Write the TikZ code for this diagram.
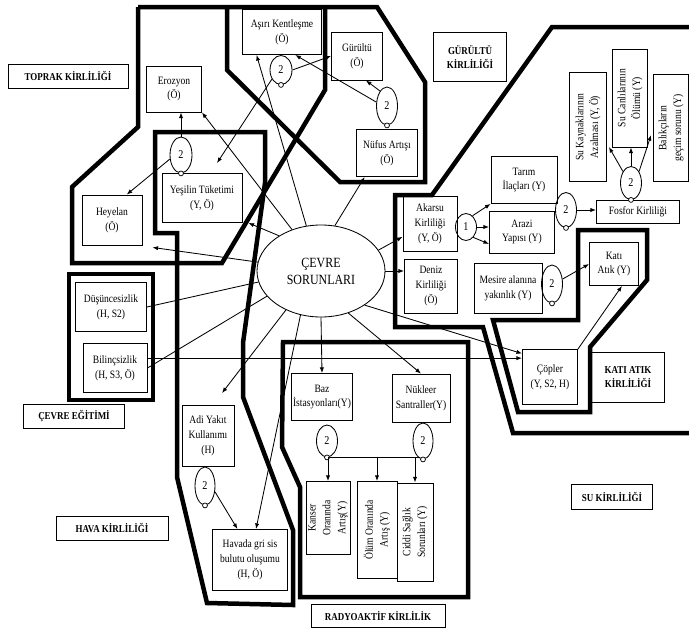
\documentclass[tikz,border=0pt]{standalone}
\usepackage{fontspec}
\setmainfont{Liberation Serif}
\newfontfamily\cndfont[FakeStretch=0.85]{Liberation Serif}
\usetikzlibrary{arrows.meta, shapes.geometric, positioning, calc}
\tikzset{every node/.append style={align=center}}
\newcommand{\boxfont}{\cndfont\fontsize{8}{10.5}\selectfont}
\newcommand{\tagfont}{\cndfont\bfseries\fontsize{7.5}{10}\selectfont}

\tikzset{
  sz/.style 2 args={minimum width=#1*0.025cm, minimum height=#2*0.025cm},
  box/.style={draw, line width=0.6pt, inner sep=1pt, font=\boxfont},
  tagbox/.style={draw, line width=0.7pt, inner sep=1pt, font=\tagfont},
  cnt/.style={ellipse, draw, line width=0.6pt, inner sep=0pt,
              font=\cndfont\fontsize{8.5}{9}\selectfont},
  knob/.style={circle, draw, fill=white, inner sep=0pt, minimum size=3.5pt, line width=0.5pt},
  arr/.style={-{Latex[length=4pt,width=3pt]}, line width=0.6pt},
  link/.style={line width=0.6pt},
  zone/.style={line width=3.2pt, line join=miter},
}

\begin{document}
\begin{tikzpicture}[x=0.025cm,y=-0.025cm]
\useasboundingbox (0,0) rectangle (689,631);

% ── thick group outlines ──────────────────────────────────────────────────────
\draw[zone] (138,7) -- (377,7) -- (425,82) -- (425,182) -- (340,182) -- (227,70) -- (227,7);
\draw[zone] (325,7) -- (325,90) -- (222,263) -- (72,263) -- (72,187) -- (138,127) -- (138,7);
\draw[zone] (155,132) -- (265,132) -- (265,183) -- (243,343) -- (243,397) -- (293,530)
            -- (293,605) -- (207,603) -- (177,477) -- (177,233) -- (155,233) -- cycle;
\draw[zone] (69,274) rectangle (153,400);
\draw[zone] (283,342) -- (468,342) -- (468,597) -- (300,597) -- (300,487) -- (282,447) -- cycle;
\draw[zone] (689,27) -- (552,27) -- (432,195) -- (395,195) -- (395,327) -- (483,327)
            -- (513,433) -- (689,433);
\draw[zone] (578,230) -- (647,230) -- (647,280) -- (590,347) -- (590,412) -- (518,412)
            -- (493,320) -- (578,320) -- cycle;

% ── group titles ──────────────────────────────────────────────────────────────
\node[tagbox, sz={120}{24}] (toprak) at (68,76) {TOPRAK KİRLİLİĞİ};
\node[tagbox, sz={73}{49}] (gurtag) at (470,57) {GÜRÜLTÜ\\KİRLİLİĞİ};
\node[tagbox, sz={101}{24}] (egitim) at (74,416) {ÇEVRE EĞİTİMİ};
\node[tagbox, sz={112}{24}] (hava) at (112,528) {HAVA KİRLİLİĞİ};
\node[tagbox, sz={134}{23}] (radyo) at (378,616) {RADYOAKTİF KİRLİLİK};
\node[tagbox, sz={81}{25}] (su) at (612,497) {SU KİRLİLİĞİ};
\node[tagbox, sz={73}{50}] (katitag) at (628,377) {KATI ATIK\\KİRLİLİĞİ};

% ── centre ────────────────────────────────────────────────────────────────────
\node[ellipse, draw, line width=0.6pt, sz={128}{92}, inner sep=0pt,
      font=\cndfont\fontsize{10}{12}\selectfont] (cevre) at (321,271) {ÇEVRE\\SORUNLARI};

% ── problems ──────────────────────────────────────────────────────────────────
\node[box, sz={55}{46}] (erozyon) at (174,89) {Erozyon\\(Ö)};
\node[box, sz={79}{45}] (asiri) at (282,32) {Aşırı Kentleşme\\(Ö)};
\node[box, sz={51}{48}] (gurultu) at (357,56) {Gürültü\\(Ö)};
\node[box, sz={61}{47}] (nufus) at (387,153) {Nüfus Artışı\\(Ö)};
\node[box, sz={80}{49}] (yesil) at (202,198) {Yeşilin Tüketimi\\(Y, Ö)};
\node[box, sz={60}{50}] (heyelan) at (112,220) {Heyelan\\(Ö)};
\node[box, sz={71}{49}] (dusunce) at (111,307) {Düşüncesizlik\\(H, S2)};
\node[box, sz={64}{49}] (bilinc) at (115,368) {Bilinçsizlik\\(H, S3, Ö)};
\node[box, sz={52}{61}] (adi) at (208,436) {Adi Yakıt\\Kullanımı\\(H)};
\node[box, sz={75}{61}] (sis) at (250,560) {Havada gri sis\\bulutu oluşumu\\(H, Ö)};
\node[box, sz={61}{47}] (baz) at (322,397) {Baz\\İstasyonları(Y)};
\node[box, sz={58}{48}] (nukleer) at (421,398) {Nükleer\\Santraller(Y)};
\node[box, sz={73}{44}, rotate=90] (kanser) at (328,518) {Kanser\\Oranında\\Artış(Y)};
\node[box, sz={97}{40}, rotate=90] (olum) at (377,530) {Ölüm Oranında\\Artış (Y)};
\node[box, sz={98}{36}, rotate=90] (ciddi) at (415,532) {Ciddi Sağlık\\Sorunları (Y)};
\node[box, sz={55}{55}] (copler) at (550,377) {Çöpler\\(Y, S2, H)};
\node[box, sz={49}{43}] (katiatik) at (614,264) {Katı\\Atık (Y)};
\node[box, sz={68}{50}] (mesire) at (508,288) {Mesire alanına\\yakınlık (Y)};
\node[box, sz={53}{54}] (deniz) at (431,286) {Deniz\\Kirliliği\\(Ö)};
\node[box, sz={54}{55}] (akarsu) at (430,224) {Akarsu\\Kirliliği\\(Y, Ö)};
\node[box, sz={65}{42}] (arazi) at (522,232) {Arazi\\Yapısı (Y)};
\node[box, sz={66}{47}] (tarim) at (524,180) {Tarım\\İlaçları (Y)};
\node[box, sz={83}{23}] (fosfor) at (638,212) {Fosfor Kirliliği};
\node[box, sz={109}{37}, rotate=90] (sukay) at (588,127) {Su Kaynaklarının\\Azalması (Y, Ö)};
\node[box, sz={98}{35}, rotate=90] (sucan) at (630,98) {Su Canlılarının\\Ölümü (Y)};
\node[box, sz={107}{35}, rotate=90] (balik) at (671,128) {Balıkçıların\\geçim sorunu (Y)};

% ── counters ──────────────────────────────────────────────────────────────────
\foreach \nm/\x/\y/\w/\h in {c1/281/70/22/29, c2/387/106/21/38, c3/181/155/22/36,
    c5/566/210/21/35, c6/631/183/21/33, c7/552/284/21/38, c8/327/441/21/32,
    c9/423/441/20/36, c10/205/486/20/38} {
  \node[cnt, sz={\w}{\h}] (\nm) at (\x,\y) {2};
  \node[knob] (\nm k) at (\nm.south) {};
}
\node[cnt, sz={21}{27}] (c4) at (466,227) {1};

% ── from the centre ───────────────────────────────────────────────────────────
\draw[arr] (cevre.125) -- (erozyon.south east);
\draw[arr] (cevre.108) -- (asiri.222);
\draw[arr] (cevre.73) -- (nufus.227);
\draw[arr] (cevre.140) -- ($(yesil.south east)+(6,0)$);
\draw[arr] (cevre.172) -- ($(heyelan.south east)+(10,2)$);
\draw[link] (cevre.190) -- (dusunce.east);
\draw[link] (cevre.205) -- (bilinc.east);
\draw[arr] (cevre.228) -- ($(adi.north)+(14,-12)$);
\draw[arr] (cevre.245) -- ($(sis.north)+(6,0)$);
\draw[arr] (cevre.south) -- (baz.north);
\draw[arr] (cevre.303) -- (nukleer.north);
\draw[arr] (cevre.322) -- (copler.140);
\draw[arr] (cevre.east) -- (cevre.east -| deniz.west);
\draw[arr] (cevre.20) -- (akarsu.205);
\draw[arr] ([yshift=7pt]bilinc.east) -- ([yshift=7pt]bilinc.east -| copler.west);

% ── within the groups ─────────────────────────────────────────────────────────
\draw[arr] (c1.east) -- (gurultu.west);
\draw[arr] (c1.225) -- ($(yesil.north)+(15,-10)$);
\draw[arr] (c2.115) -- (gurultu.290);
\draw[arr] (c2.160) -- (asiri.300);
\draw[arr] (c3.north) -- (c3.north |- erozyon.south);
\draw[arr] (c3.200) -- (heyelan.60);
\draw[arr] (c4.60) -- (tarim.south west);
\draw[arr] (c4.east) -- (c4.east -| arazi.west);
\draw[arr] (c4.305) -- (arazi.200);
\draw[arr] (c5.east) -- (c5.east -| fosfor.west);
\draw[arr] (c6.125) -- ($(sukay.south)+(2,20)$);
\draw[arr] (c6.north) -- (c6.north |- sucan.west);
\draw[arr] (c6.55) -- ($(balik.north)+(-2,7)$);
\draw[arr] (c7.25) -- (katiatik.west);
\draw[arr] (copler.north east) -- (katiatik.290);
\draw[link] (c8k.east) -- (c8k.east -| c9k.west);
\foreach \t in {kanser, olum, ciddi} \draw[arr] (\t.east |- c8k) -- (\t.east);
\draw[arr] (c10.330) -- (sis.112);

\end{tikzpicture}
\end{document}
